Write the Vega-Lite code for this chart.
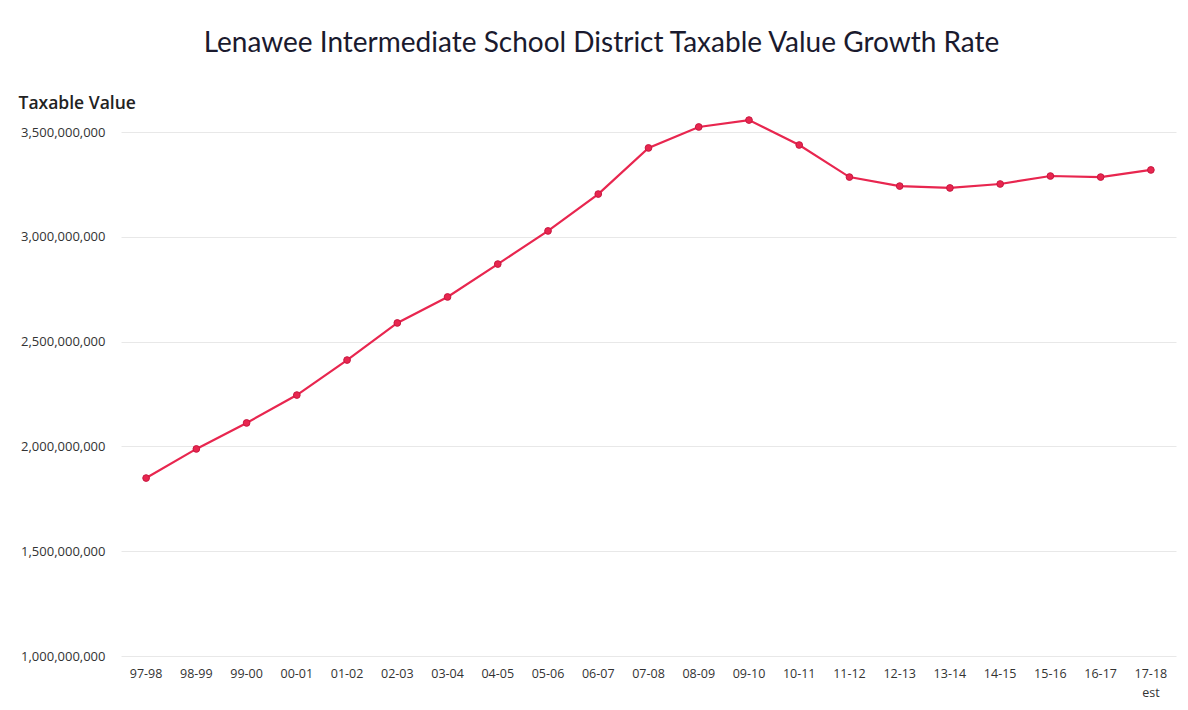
{
  "$schema": "https://vega.github.io/schema/vega-lite/v6.json",
  "autosize": "none",
  "width": 1055,
  "height": 524,
  "padding": {"left": 121, "top": 132, "right": 12, "bottom": 54},
  "background": "white",
  "title": {
    "text": "Lenawee Intermediate School District Taxable Value Growth Rate",
    "font": "Lato",
    "fontSize": 28,
    "fontWeight": "normal",
    "color": "#1a1a2e",
    "anchor": "middle",
    "dx": -47,
    "offset": 36
  },
  "config": {
    "view": {"stroke": null},
    "font": "Open Sans"
  },
  "data": {
    "values": [
      {"year": "97-98", "value": 1849000000},
      {"year": "98-99", "value": 1988000000},
      {"year": "99-00", "value": 2112000000},
      {"year": "00-01", "value": 2245000000},
      {"year": "01-02", "value": 2412000000},
      {"year": "02-03", "value": 2589000000},
      {"year": "03-04", "value": 2713000000},
      {"year": "04-05", "value": 2870000000},
      {"year": "05-06", "value": 3028000000},
      {"year": "06-07", "value": 3204000000},
      {"year": "07-08", "value": 3424000000},
      {"year": "08-09", "value": 3524000000},
      {"year": "09-10", "value": 3557000000},
      {"year": "10-11", "value": 3438000000},
      {"year": "11-12", "value": 3285000000},
      {"year": "12-13", "value": 3242000000},
      {"year": "13-14", "value": 3233000000},
      {"year": "14-15", "value": 3252000000},
      {"year": "15-16", "value": 3290000000},
      {"year": "16-17", "value": 3285000000},
      {"year": "17-18 est", "value": 3319000000}
    ]
  },
  "encoding": {
    "x": {
      "field": "year",
      "type": "ordinal",
      "sort": null,
      "scale": {"type": "band", "paddingInner": 0, "paddingOuter": 0},
      "axis": {
        "title": null,
        "labelAngle": 0,
        "domain": false,
        "ticks": false,
        "grid": false,
        "labelFont": "Open Sans",
        "labelFontSize": 12.5,
        "labelColor": "#333333",
        "labelPadding": 11,
        "labelBaseline": "top",
        "labelLineHeight": 19,
        "labelExpr": "datum.label == '17-18 est' ? ['17-18', 'est'] : datum.label"
      }
    },
    "y": {
      "field": "value",
      "type": "quantitative",
      "scale": {"domain": [1000000000, 3500000000], "nice": false, "zero": false},
      "axis": {
        "values": [1000000000, 1500000000, 2000000000, 2500000000, 3000000000, 3500000000],
        "format": ",d",
        "title": "Taxable Value",
        "titleAngle": 0,
        "titleAlign": "left",
        "titleBaseline": "alphabetic",
        "titleX": -103,
        "titleY": -24,
        "titleFont": "Open Sans",
        "titleFontSize": 17.5,
        "titleFontWeight": 600,
        "titleColor": "#222222",
        "domain": false,
        "ticks": false,
        "labelFont": "Open Sans",
        "labelFontSize": 13,
        "labelColor": "#333333",
        "labelPadding": 16,
        "grid": true,
        "gridColor": "#e8e8e8",
        "gridWidth": 1
      }
    }
  },
  "layer": [
    {
      "mark": {"type": "line", "color": "#e8264f", "strokeWidth": 2.2}
    },
    {
      "mark": {"type": "point", "filled": true, "color": "#e8264f", "size": 45, "opacity": 1, "stroke": "#c81840", "strokeWidth": 1}
    }
  ]
}
